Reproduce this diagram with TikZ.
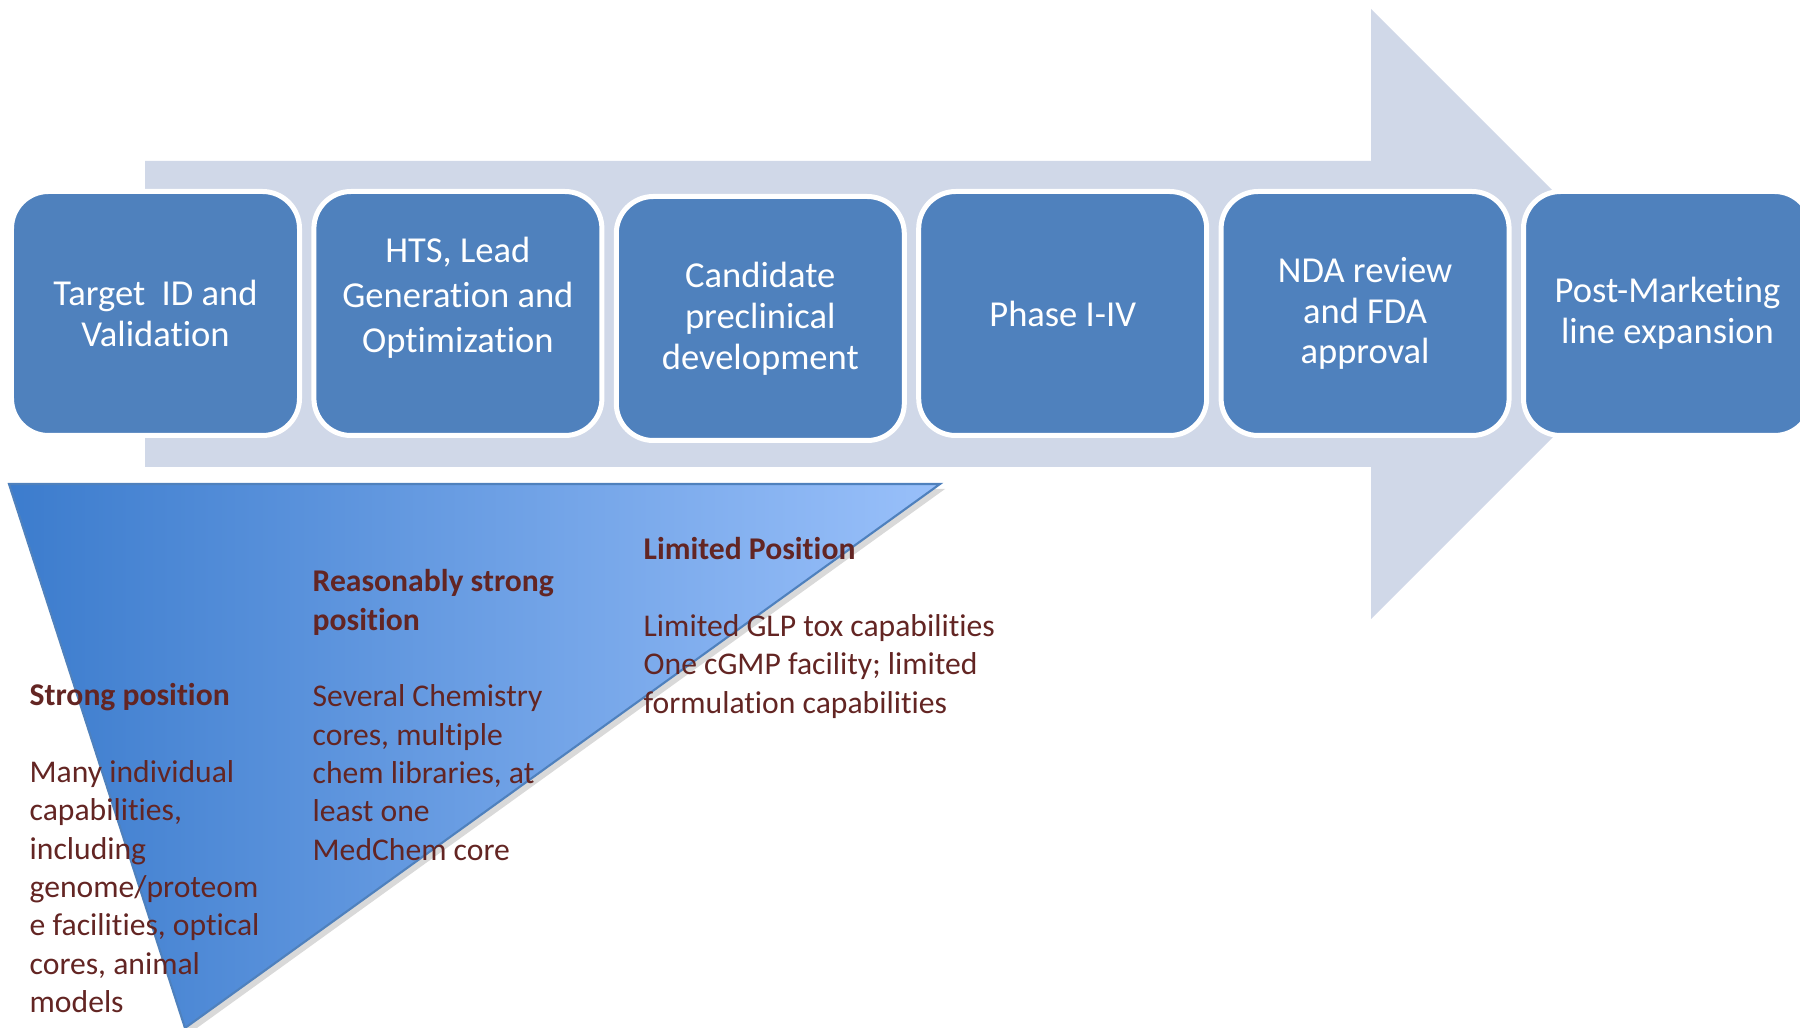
\documentclass[tikz,border=0pt]{standalone}
\usepackage{fontspec}
\setmainfont[Ligatures=NoCommon]{Carlito}
\usetikzlibrary{positioning,shadows}
\definecolor{arrowgray}{RGB}{208,216,232}
\definecolor{stageblue}{RGB}{79,129,189}
\definecolor{tridark}{RGB}{60,124,205}
\definecolor{trilight}{RGB}{153,192,250}
\definecolor{notered}{RGB}{99,37,35}
\tikzset{
  stage/.style={draw=white, line width=0.05cm, fill=stageblue, rounded corners=0.37cm,
    minimum width=2.88cm, minimum height=2.44cm, inner sep=0pt, align=center,
    text=white, font=\fontsize{10.4}{11.6}\selectfont},
  note/.style={anchor=north west, inner sep=0pt, align=left, text=notered,
    font=\fontsize{9}{10.9}\selectfont}
}
\begin{document}
\begin{tikzpicture}
\useasboundingbox (0,0) rectangle (18,-10.28);
\clip (0,0) rectangle (18,-10.28);

% big pipeline arrow
\fill[arrowgray] (1.45,-1.61) -- (13.71,-1.61) -- (13.71,-0.09) -- (16.76,-3.14)
  -- (13.71,-6.19) -- (13.71,-4.67) -- (1.45,-4.67) -- cycle;

\node[stage] (TV) at (1.555,-3.135) {Target\ \ ID and\\Validation};
\node[stage, right of=TV, node distance=3.024cm, font=\fontsize{10.4}{12.8}\selectfont] (HL) {HTS, Lead\\Generation and\\Optimization\\[-2pt]\mbox{}};
\node[stage, right of=HL, node distance=3.024cm, yshift=-0.5mm] (CP) {Candidate\\preclinical\\development};
\node[stage, right of=CP, node distance=3.024cm, yshift=0.5mm] (PH) {Phase I-IV};
\node[stage, right of=PH, node distance=3.024cm] (NDA) {NDA review\\and FDA\\approval};
\node[stage, right of=NDA, node distance=3.024cm] (PM) {Post-Marketing\\line expansion};

% capability wedge
\path[draw=stageblue, line width=0.6pt, left color=tridark, right color=trilight,
  drop shadow={opacity=0.3, shadow xshift=0.5mm, shadow yshift=-0.5mm}]
  (0.09,-4.84) -- (9.40,-4.84) -- (1.85,-10.28) -- cycle;

\node[note] (strong) at (0.29,-6.83) {\textbf{Strong position}\\[10.9pt]Many individual\\capabilities,\\including\\genome/proteom\\e facilities, optical\\cores, animal\\models};
\node[note] (reasonable) at (3.12,-5.69) {\textbf{Reasonably strong}\\\textbf{position}\\[10.9pt]Several Chemistry\\cores, multiple\\chem libraries, at\\least one\\MedChem core};
\node[note] (limited) at (6.43,-5.37) {\textbf{Limited Position}\\[10.9pt]Limited GLP tox capabilities\\One cGMP facility; limited\\formulation capabilities};
\end{tikzpicture}
\end{document}
